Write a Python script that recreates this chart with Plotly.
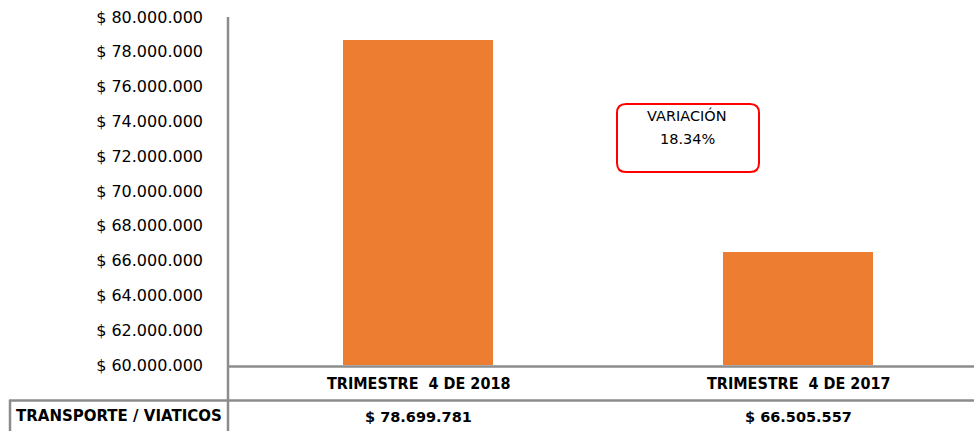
import plotly.graph_objects as go

categories = ["TRIMESTRE  4 DE 2018", "TRIMESTRE  4 DE 2017"]
values = [78699781, 66505557]
series_name = "TRANSPORTE / VIATICOS"
tick_values = list(range(60000000, 80000001, 2000000))
variation_label = "VARIACIÓN"


def money(v):
    return "$ " + f"{v:,}".replace(",", ".")


W, H = 974, 431
L, R, T, B = 228, 974, 17, 365  # plot area in pixels
PW, PH = R - L, B - T


def px(xp):
    return (xp - L) / PW


def py(yp):
    return (B - yp) / PH


ORANGE = "#ED7D31"
GRAY = "#8C8C8C"

fig = go.Figure()
fig.add_trace(go.Bar(
    x=[0, 1], y=values, width=0.395,
    marker=dict(color=ORANGE, line=dict(width=0)),
    hoverinfo="skip", showlegend=False,
))

variation = (values[0] / values[1] - 1) * 100

shapes = [
    dict(type="line", xref="paper", yref="paper", x0=px(228), x1=px(228), y0=py(17), y1=py(431),
         line=dict(color=GRAY, width=2.5)),
    dict(type="line", xref="paper", yref="paper", x0=px(228), x1=1.0, y0=py(366.5), y1=py(366.5),
         line=dict(color=GRAY, width=2.5)),
    dict(type="line", xref="paper", yref="paper", x0=px(9), x1=1.0, y0=py(400.5), y1=py(400.5),
         line=dict(color=GRAY, width=2.5)),
    dict(type="line", xref="paper", yref="paper", x0=px(10), x1=px(10), y0=py(400), y1=py(431),
         line=dict(color=GRAY, width=2.5)),
]

bx0, bx1, by0, by1, r = 617, 759, 104, 172, 9
path = (
    f"M {px(bx0 + r)} {py(by0)} L {px(bx1 - r)} {py(by0)} "
    f"Q {px(bx1)} {py(by0)} {px(bx1)} {py(by0 + r)} "
    f"L {px(bx1)} {py(by1 - r)} Q {px(bx1)} {py(by1)} {px(bx1 - r)} {py(by1)} "
    f"L {px(bx0 + r)} {py(by1)} Q {px(bx0)} {py(by1)} {px(bx0)} {py(by1 - r)} "
    f"L {px(bx0)} {py(by0 + r)} Q {px(bx0)} {py(by0)} {px(bx0 + r)} {py(by0)} Z"
)
shapes.append(dict(type="path", xref="paper", yref="paper", path=path,
                   line=dict(color="#FF0000", width=2), fillcolor="white"))

annotations = []
cat_font = dict(family="DejaVu Sans Condensed", size=16, color="black", weight="bold")
for i, (c, v) in enumerate(zip(categories, values)):
    annotations.append(dict(x=i, y=py(384), xref="x", yref="paper", text=c, showarrow=False,
                            font=cat_font, xanchor="center", yanchor="middle"))
    annotations.append(dict(x=i, y=py(417), xref="x", yref="paper", text=money(v), showarrow=False,
                            font=dict(family="DejaVu Sans", size=14.5, color="black", weight="bold"),
                            xanchor="center", yanchor="middle"))
annotations.append(dict(x=px(14), y=py(416), xref="paper", yref="paper", text=series_name,
                        showarrow=False, xanchor="left", yanchor="middle",
                        font=dict(family="DejaVu Sans", size=15, color="black", weight="bold")))
annotations.append(dict(x=px(687), y=py(116), xref="paper", yref="paper", text=variation_label,
                        showarrow=False, xanchor="center", yanchor="middle",
                        font=dict(family="DejaVu Sans", size=14.5, color="black")))
annotations.append(dict(x=px(687), y=py(139), xref="paper", yref="paper", text=f"{variation:.2f}%",
                        showarrow=False, xanchor="center", yanchor="middle",
                        font=dict(family="DejaVu Sans", size=14.5, color="black")))

fig.update_layout(
    width=W, height=H,
    margin=dict(l=L, r=W - R, t=T, b=H - B, pad=0),
    paper_bgcolor="white", plot_bgcolor="white",
    bargap=0,
    xaxis=dict(range=[-0.5, -0.5 + PW / 380], showticklabels=False, showgrid=False,
               zeroline=False, showline=False, ticks=""),
    yaxis=dict(range=[60000000, 80000000], tickvals=tick_values,
               ticktext=[money(v) for v in tick_values], showgrid=False, zeroline=False,
               showline=False, ticks="", ticklabelstandoff=24,
               tickfont=dict(family="DejaVu Sans", size=16, color="black")),
    shapes=shapes, annotations=annotations,
    showlegend=False,
)

fig.write_html("out.html", config={"displayModeBar": False},
               post_script="document.body.style.margin='0';")
